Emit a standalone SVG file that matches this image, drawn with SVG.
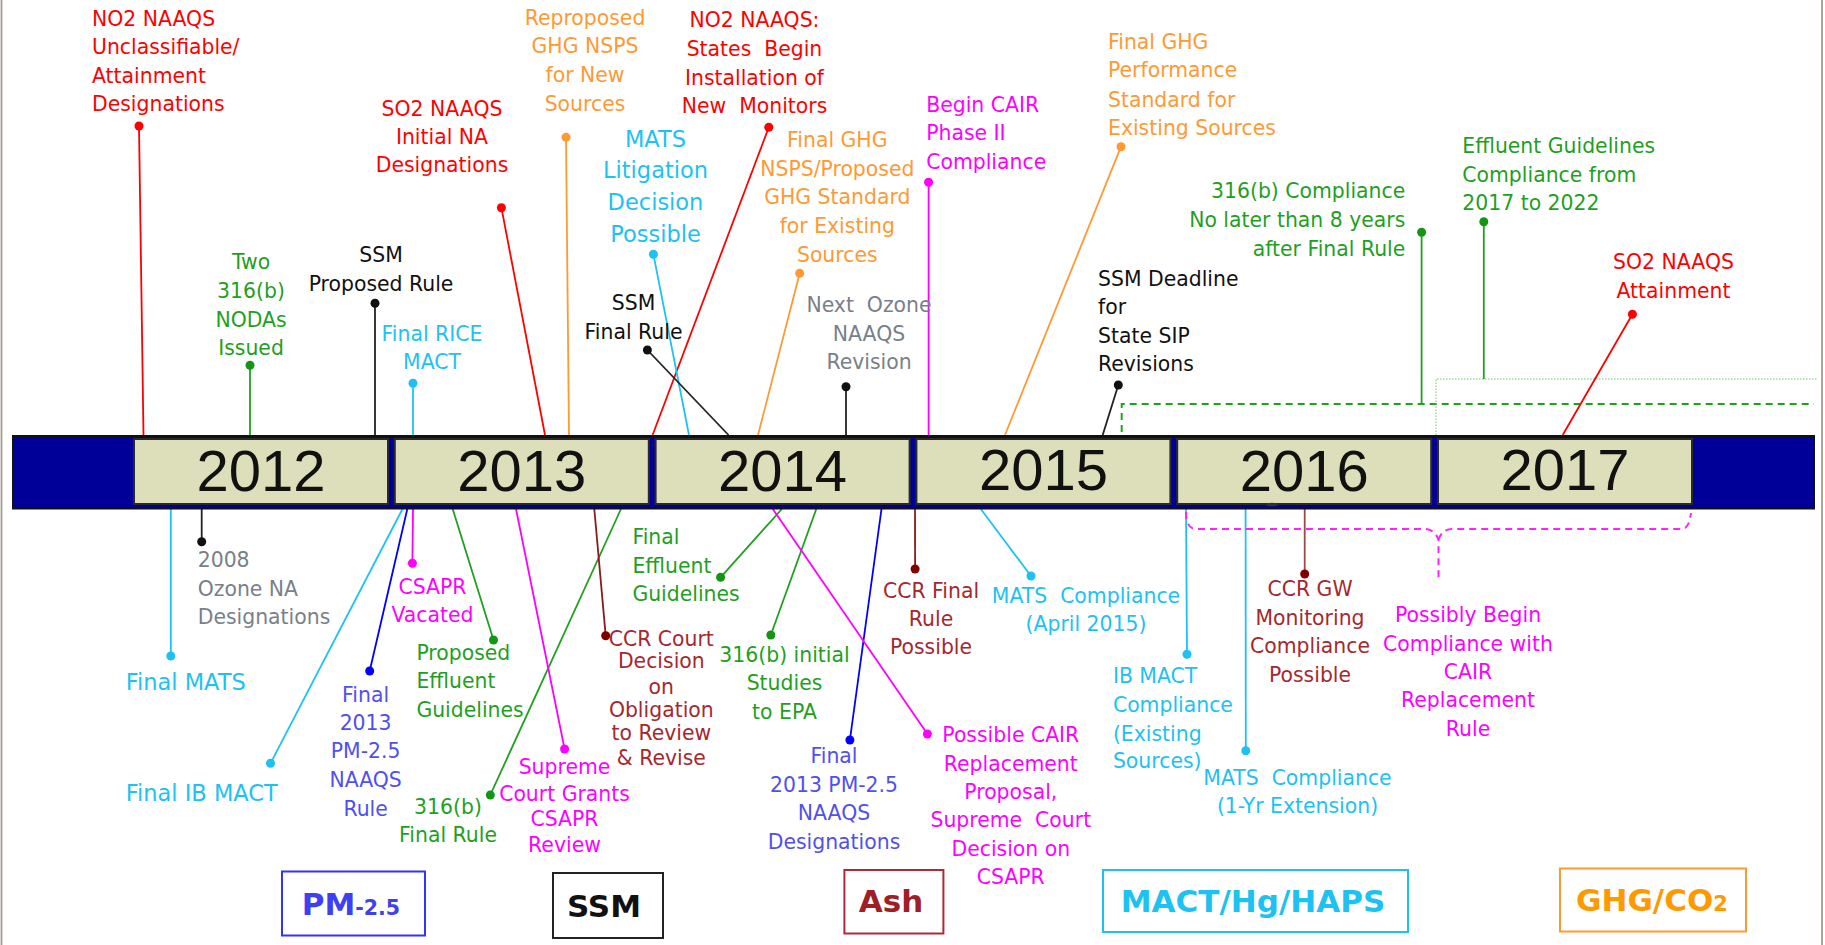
<svg xmlns="http://www.w3.org/2000/svg" width="1825" height="945" viewBox="0 0 1825 945">
<style>
text{font-family:"DejaVu Sans","Liberation Sans",sans-serif;font-size:20.4px}
.r{fill:#FF0000}.o{fill:#FF9933}.g{fill:#1F9F1F}.c{fill:#1DC2F2}.m{fill:#FF00FF}.b{fill:#5050EF}.dr{fill:#A5282F}.gy{fill:#78808A}.k{fill:#111}
.mid{text-anchor:middle}.end{text-anchor:end}
.big{font-size:22.5px}
.yr{font-family:"Liberation Sans",Arial,sans-serif;font-size:58px;fill:#111;text-anchor:middle}
.leg{font-weight:bold;font-size:31px}
.box{fill:#DCDFBA;stroke:#2a2a2a;stroke-width:2}
.lb{fill:#fff;stroke-width:2}
line{stroke-width:1.8;fill:none}
.lr{stroke:#FF0000}.lo{stroke:#FF9933}.lg{stroke:#20A020}.lc{stroke:#1DC2F2}.lm{stroke:#FF00FF}.lbl{stroke:#0000FF}.ldr{stroke:#8B1A1A}.lk{stroke:#222}
</style>
<defs>
<marker id="dr" markerUnits="userSpaceOnUse" markerWidth="10" markerHeight="10" refX="5" refY="5"><circle cx="5" cy="5" r="4.5" fill="#FF0000"/></marker>
<marker id="do" markerUnits="userSpaceOnUse" markerWidth="10" markerHeight="10" refX="5" refY="5"><circle cx="5" cy="5" r="4.5" fill="#FF9933"/></marker>
<marker id="dg" markerUnits="userSpaceOnUse" markerWidth="10" markerHeight="10" refX="5" refY="5"><circle cx="5" cy="5" r="4.5" fill="#139613"/></marker>
<marker id="dc" markerUnits="userSpaceOnUse" markerWidth="10" markerHeight="10" refX="5" refY="5"><circle cx="5" cy="5" r="4.5" fill="#1DC2F2"/></marker>
<marker id="dm" markerUnits="userSpaceOnUse" markerWidth="10" markerHeight="10" refX="5" refY="5"><circle cx="5" cy="5" r="4.5" fill="#FF00FF"/></marker>
<marker id="db" markerUnits="userSpaceOnUse" markerWidth="10" markerHeight="10" refX="5" refY="5"><circle cx="5" cy="5" r="4.5" fill="#0000FF"/></marker>
<marker id="dd" markerUnits="userSpaceOnUse" markerWidth="10" markerHeight="10" refX="5" refY="5"><circle cx="5" cy="5" r="4.5" fill="#800000"/></marker>
<marker id="dk" markerUnits="userSpaceOnUse" markerWidth="10" markerHeight="10" refX="5" refY="5"><circle cx="5" cy="5" r="4.5" fill="#111"/></marker>
</defs>
<rect width="1825" height="945" fill="#fff"/>
<line x1="1.5" y1="0" x2="1.5" y2="945" stroke="#A39B94" stroke-width="2.5"/>
<line x1="1822" y1="0" x2="1822" y2="945" stroke="#A39B94" stroke-width="2.5"/>

<g id="connectors">
<line class="lr" x1="143.5" y1="435" x2="139" y2="126" marker-end="url(#dr)"/>
<line class="lr" x1="545" y1="435" x2="501.4" y2="207.7" marker-end="url(#dr)"/>
<line class="lg" x1="250" y1="435" x2="250" y2="365.3" marker-end="url(#dg)"/>
<line class="lk" x1="375" y1="435" x2="375" y2="303.3" marker-end="url(#dk)"/>
<line class="lc" x1="413" y1="435" x2="413" y2="383.3" marker-end="url(#dc)"/>
<line class="lo" x1="569" y1="435" x2="566" y2="137.3" marker-end="url(#do)"/>
<line class="lr" x1="652.6" y1="435" x2="768.8" y2="127.3" marker-end="url(#dr)"/>
<line class="lc" x1="689" y1="435" x2="653.4" y2="254.3" marker-end="url(#dc)"/>
<line class="lk" x1="728.5" y1="435" x2="647.4" y2="350" marker-end="url(#dk)"/>
<line class="lo" x1="758" y1="435" x2="799.7" y2="273.3" marker-end="url(#do)"/>
<line class="lk" x1="846" y1="435" x2="846" y2="386.7" marker-end="url(#dk)"/>
<line class="lm" x1="928.6" y1="435" x2="928.6" y2="182.3" marker-end="url(#dm)"/>
<line class="lo" x1="1005" y1="435" x2="1121" y2="146.7" marker-end="url(#do)"/>
<line class="lk" x1="1102.7" y1="435" x2="1118.3" y2="385" marker-end="url(#dk)"/>
<path d="M1121.7,432 L1121.7,404 L1814,404" fill="none" stroke="#1AA81A" stroke-width="2" stroke-dasharray="7 5"/>
<path d="M1436,435 L1436,379 L1817,379" fill="none" stroke="#6CC46C" stroke-width="1" stroke-dasharray="1.5 1.5"/>
<line class="lg" x1="1421.6" y1="404" x2="1421.6" y2="232.3" marker-end="url(#dg)"/>
<line class="lg" x1="1483.8" y1="379" x2="1483.8" y2="221.7" marker-end="url(#dg)"/>
<line class="lr" x1="1562.7" y1="435" x2="1632.4" y2="314.3" marker-end="url(#dr)"/>

<line class="lc" x1="170.8" y1="509" x2="170.8" y2="656" marker-end="url(#dc)"/>
<line class="lk" x1="201.7" y1="509" x2="201.7" y2="541.7" marker-end="url(#dk)"/>
<line class="lc" x1="402.5" y1="509" x2="270.5" y2="763.3" marker-end="url(#dc)"/>
<line class="lbl" x1="407.3" y1="509" x2="369.7" y2="671" marker-end="url(#db)"/>
<line class="lm" x1="413" y1="509" x2="412.4" y2="563.3" marker-end="url(#dm)"/>
<line class="lg" x1="452.7" y1="509" x2="493.5" y2="640" marker-end="url(#dg)"/>
<line class="lg" x1="621" y1="509" x2="490.3" y2="795" marker-end="url(#dg)"/>
<line class="lm" x1="516" y1="509" x2="564.6" y2="749" marker-end="url(#dm)"/>
<line class="ldr" x1="594.3" y1="509" x2="605.7" y2="635.7" marker-end="url(#dd)"/>
<line class="lg" x1="781.9" y1="509" x2="720.6" y2="577.3" marker-end="url(#dg)"/>
<line class="lg" x1="816.3" y1="509" x2="770.8" y2="635" marker-end="url(#dg)"/>
<line class="lbl" x1="881.5" y1="509" x2="849.9" y2="740" marker-end="url(#db)"/>
<line class="lm" x1="772.8" y1="509" x2="927.4" y2="734" marker-end="url(#dm)"/>
<line class="ldr" x1="915" y1="509" x2="915.1" y2="569" marker-end="url(#dd)"/>
<line class="lc" x1="980.8" y1="509" x2="1031" y2="576" marker-end="url(#dc)"/>
<line class="lc" x1="1186" y1="509" x2="1187" y2="654.3" marker-end="url(#dc)"/>
<line class="lc" x1="1245.6" y1="509" x2="1245.8" y2="750.7" marker-end="url(#dc)"/>
<line x1="1304.7" y1="509" x2="1304.7" y2="574" stroke="#A04848" marker-end="url(#dd)"/>
<path d="M1186,512 Q1186,529 1196,529 L1424,529 Q1435,529 1438.5,540 L1438.5,582 M1438.5,540 Q1442,529 1452,529 L1682,529 Q1689,529 1691,513" fill="none" stroke="#FF22FF" stroke-width="2" stroke-dasharray="7 5"/>
</g>

<g id="timeline">
<rect x="13" y="436" width="1801" height="72.5" fill="#000099" stroke="#111" stroke-width="2"/>
<rect class="box" x="134" y="439" width="254" height="65"/>
<rect class="box" x="394.8" y="439" width="254" height="65"/>
<rect class="box" x="655.6" y="439" width="254" height="65"/>
<rect class="box" x="916.4" y="439" width="254" height="65"/>
<rect class="box" x="1177.2" y="439" width="254" height="65"/>
<rect class="box" x="1438" y="439" width="254" height="65"/>
<text class="yr" x="261" y="491">2012</text>
<text class="yr" x="521.8" y="491">2013</text>
<text class="yr" x="782.6" y="491">2014</text>
<text class="yr" x="1043.4" y="490">2015</text>
<text class="yr" x="1304.2" y="491">2016</text>
<text class="yr" x="1565" y="490">2017</text>
<ellipse cx="1272" cy="504.5" rx="6" ry="1.8" fill="#333"/>
</g>

<g id="n-no2-unclass"><text class="r"><tspan x="92" y="25.5">NO2 NAAQS</tspan><tspan x="92" y="54">Unclassifiable/</tspan><tspan x="92" y="82.5">Attainment</tspan><tspan x="92" y="111">Designations</tspan></text></g>
<g id="n-so2-initial"><text class="r mid"><tspan x="442" y="115.7">SO2 NAAQS</tspan><tspan x="442" y="144">Initial NA</tspan><tspan x="442" y="172.3">Designations</tspan></text></g>
<g id="n-two-316b"><text class="g mid"><tspan x="251" y="269.3">Two</tspan><tspan x="251" y="298">316(b)</tspan><tspan x="251" y="326.7">NODAs</tspan><tspan x="251" y="355">Issued</tspan></text></g>
<g id="n-ssm-proposed"><text class="k mid"><tspan x="381" y="262.3">SSM</tspan><tspan x="381" y="291">Proposed Rule</tspan></text></g>
<g id="n-rice"><text class="c mid"><tspan x="432" y="340.7">Final RICE</tspan><tspan x="432" y="369.3">MACT</tspan></text></g>
<g id="n-reproposed"><text class="o mid"><tspan x="585" y="25">Reproposed</tspan><tspan x="585" y="53.3">GHG NSPS</tspan><tspan x="585" y="81.7">for New</tspan><tspan x="585" y="110.7">Sources</tspan></text></g>
<g id="n-no2-monitors"><text class="r mid" xml:space="preserve"><tspan x="754.5" y="26.7">NO2 NAAQS:</tspan><tspan x="754.5" y="56">States  Begin</tspan><tspan x="754.5" y="85">Installation of</tspan><tspan x="754.5" y="113.3">New  Monitors</tspan></text></g>
<g id="n-mats-litigation"><text class="c mid big"><tspan x="655.5" y="146.7">MATS</tspan><tspan x="655.5" y="178.3">Litigation</tspan><tspan x="655.5" y="210">Decision</tspan><tspan x="655.5" y="241.7">Possible</tspan></text></g>
<g id="n-ssm-final"><text class="k mid"><tspan x="633.5" y="310">SSM</tspan><tspan x="633.5" y="339">Final Rule</tspan></text></g>
<g id="n-final-ghg-nsps"><text class="o mid"><tspan x="837.3" y="146.7">Final GHG</tspan><tspan x="837.3" y="175.7">NSPS/Proposed</tspan><tspan x="837.3" y="204">GHG Standard</tspan><tspan x="837.3" y="233.3">for Existing</tspan><tspan x="837.3" y="261.7">Sources</tspan></text></g>
<g id="n-next-ozone"><text class="gy mid" xml:space="preserve"><tspan x="869" y="312.3">Next  Ozone</tspan><tspan x="869" y="340.7">NAAQS</tspan><tspan x="869" y="369.3">Revision</tspan></text></g>
<g id="n-begin-cair"><text class="m"><tspan x="926.2" y="111.7">Begin CAIR</tspan><tspan x="926.2" y="140">Phase II</tspan><tspan x="926.2" y="169">Compliance</tspan></text></g>
<g id="n-final-ghg-perf"><text class="o"><tspan x="1108" y="49">Final GHG</tspan><tspan x="1108" y="77.3">Performance</tspan><tspan x="1108" y="106.7">Standard for</tspan><tspan x="1108" y="135">Existing Sources</tspan></text></g>
<g id="n-ssm-deadline"><text class="k"><tspan x="1098" y="285.7">SSM Deadline</tspan><tspan x="1098" y="314.3">for</tspan><tspan x="1098" y="342.7">State SIP</tspan><tspan x="1098" y="371">Revisions</tspan></text></g>
<g id="n-316b-compliance"><text class="g end"><tspan x="1405.3" y="198.3">316(b) Compliance</tspan><tspan x="1405.3" y="227.3">No later than 8 years</tspan><tspan x="1405.3" y="255.7">after Final Rule</tspan></text></g>
<g id="n-effluent-compliance"><text class="g"><tspan x="1462.3" y="153.3">Effluent Guidelines</tspan><tspan x="1462.3" y="181.7">Compliance from</tspan><tspan x="1462.3" y="210">2017 to 2022</tspan></text></g>
<g id="n-so2-attain"><text class="r mid"><tspan x="1673.5" y="269.3">SO2 NAAQS</tspan><tspan x="1673.5" y="297.7">Attainment</tspan></text></g>

<g id="n-final-mats"><text class="c big" x="125.7" y="690">Final MATS</text></g>
<g id="n-2008-ozone"><text class="gy"><tspan x="197.7" y="567.3">2008</tspan><tspan x="197.7" y="596">Ozone NA</tspan><tspan x="197.7" y="624">Designations</tspan></text></g>
<g id="n-final-ib-mact"><text class="c big" x="125.7" y="800.7">Final IB MACT</text></g>
<g id="n-pm25-rule"><text class="b mid"><tspan x="365.6" y="701.7">Final</tspan><tspan x="365.6" y="730">2013</tspan><tspan x="365.6" y="758.3">PM-2.5</tspan><tspan x="365.6" y="786.7">NAAQS</tspan><tspan x="365.6" y="815.7">Rule</tspan></text></g>
<g id="n-csapr-vacated"><text class="m mid"><tspan x="432.5" y="594.3">CSAPR</tspan><tspan x="432.5" y="622.3">Vacated</tspan></text></g>
<g id="n-proposed-effluent"><text class="g"><tspan x="416.4" y="660">Proposed</tspan><tspan x="416.4" y="688.3">Effluent</tspan><tspan x="416.4" y="716.7">Guidelines</tspan></text></g>
<g id="n-316b-final"><text class="g mid"><tspan x="448" y="814">316(b)</tspan><tspan x="448" y="841.7">Final Rule</tspan></text></g>
<g id="n-supreme-grants"><text class="m mid"><tspan x="564.5" y="774">Supreme</tspan><tspan x="564.5" y="800.7">Court Grants</tspan><tspan x="564.5" y="825.7">CSAPR</tspan><tspan x="564.5" y="852.3">Review</tspan></text></g>
<g id="n-ccr-court"><text class="dr mid"><tspan x="661.3" y="645.7">CCR Court</tspan><tspan x="661.3" y="668.3">Decision</tspan><tspan x="661.3" y="694">on</tspan><tspan x="661.3" y="716.7">Obligation</tspan><tspan x="661.3" y="740">to Review</tspan><tspan x="661.3" y="765">&amp; Revise</tspan></text></g>
<g id="n-final-effluent"><text class="g"><tspan x="632.4" y="544">Final</tspan><tspan x="632.4" y="572.7">Effluent</tspan><tspan x="632.4" y="601">Guidelines</tspan></text></g>
<g id="n-316b-initial"><text class="g mid"><tspan x="784.5" y="662.3">316(b) initial</tspan><tspan x="784.5" y="690">Studies</tspan><tspan x="784.5" y="719">to EPA</tspan></text></g>
<g id="n-pm25-design"><text class="b mid"><tspan x="834" y="763.3">Final</tspan><tspan x="834" y="791.7">2013 PM-2.5</tspan><tspan x="834" y="820">NAAQS</tspan><tspan x="834" y="849">Designations</tspan></text></g>
<g id="n-possible-cair"><text class="m mid" xml:space="preserve"><tspan x="1010.8" y="742.3">Possible CAIR</tspan><tspan x="1010.8" y="770.7">Replacement</tspan><tspan x="1010.8" y="799">Proposal,</tspan><tspan x="1010.8" y="827.3">Supreme  Court</tspan><tspan x="1010.8" y="856">Decision on</tspan><tspan x="1010.8" y="884.3">CSAPR</tspan></text></g>
<g id="n-ccr-final"><text class="dr mid"><tspan x="931" y="597.7">CCR Final</tspan><tspan x="931" y="626">Rule</tspan><tspan x="931" y="654.3">Possible</tspan></text></g>
<g id="n-mats-april"><text class="c mid" xml:space="preserve"><tspan x="1086" y="603.3">MATS  Compliance</tspan><tspan x="1086" y="631">(April 2015)</tspan></text></g>
<g id="n-ib-mact-compliance"><text class="c"><tspan x="1112.9" y="683.3">IB MACT</tspan><tspan x="1112.9" y="711.7">Compliance</tspan><tspan x="1112.9" y="740.7">(Existing</tspan><tspan x="1112.9" y="768.3">Sources)</tspan></text></g>
<g id="n-ccr-gw"><text class="dr mid"><tspan x="1310" y="596">CCR GW</tspan><tspan x="1310" y="625">Monitoring</tspan><tspan x="1310" y="653.3">Compliance</tspan><tspan x="1310" y="681.7">Possible</tspan></text></g>
<g id="n-mats-1yr"><text class="c mid" xml:space="preserve"><tspan x="1297.5" y="785">MATS  Compliance</tspan><tspan x="1297.5" y="813.3">(1-Yr Extension)</tspan></text></g>
<g id="n-possibly-begin"><text class="m mid"><tspan x="1468" y="622.3">Possibly Begin</tspan><tspan x="1468" y="651">Compliance with</tspan><tspan x="1468" y="679.3">CAIR</tspan><tspan x="1468" y="707.3">Replacement</tspan><tspan x="1468" y="736">Rule</tspan></text></g>

<g id="legend-pm"><rect class="lb" x="282" y="871.5" width="143" height="64" stroke="#3333FF"/><text class="leg" x="301.7" y="915" font-size="30" fill="#4040F0">PM<tspan font-size="20.5">-2.5</tspan></text></g>
<g id="legend-ssm"><rect class="lb" x="553" y="873" width="110" height="65" stroke="#222"/><text class="leg mid" x="604" y="916.5" font-size="29.5" fill="#111">SSM</text></g>
<g id="legend-ash"><rect class="lb" x="844.4" y="870" width="99" height="63.5" stroke="#B02838"/><text class="leg mid" x="891" y="912" font-size="30" fill="#A01E28">Ash</text></g>
<g id="legend-mact"><rect class="lb" x="1103" y="870" width="305" height="62" stroke="#1DC2F2"/><text class="leg mid" x="1253" y="912" fill="#1DC2F2">MACT/Hg/HAPS</text></g>
<g id="legend-ghg"><rect class="lb" x="1560" y="868.5" width="186" height="63" stroke="#FF9933"/><text class="leg" x="1576" y="911" fill="#FF9900">GHG/CO<tspan font-size="21">2</tspan></text></g>
</svg>
